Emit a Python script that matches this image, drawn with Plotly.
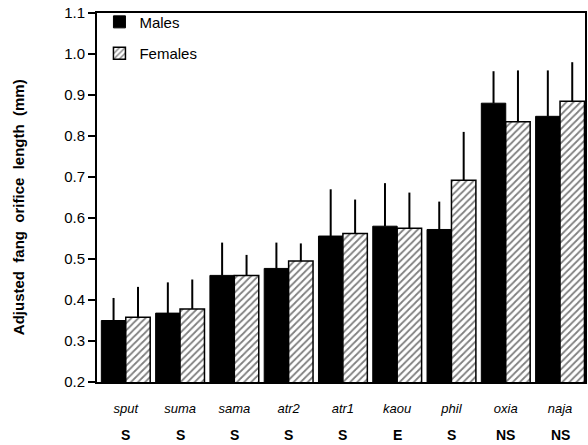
import plotly.graph_objects as go

species = ["sput", "suma", "sama", "atr2", "atr1", "kaou", "phil", "oxia", "naja"]
codes = ["S", "S", "S", "S", "S", "E", "S", "NS", "NS"]
males = [0.350, 0.368, 0.460, 0.477, 0.556, 0.580, 0.572, 0.880, 0.848]
females = [0.358, 0.378, 0.460, 0.495, 0.562, 0.575, 0.692, 0.835, 0.885]
males_err_top = [0.405, 0.443, 0.540, 0.540, 0.670, 0.685, 0.640, 0.958, 0.960]
females_err_top = [0.432, 0.450, 0.510, 0.538, 0.645, 0.662, 0.810, 0.960, 0.980]
y_title = "Adjusted fang orifice length (mm)"

x = list(range(len(species)))
m_err = [t - v for t, v in zip(males_err_top, males)]
f_err = [t - v for t, v in zip(females_err_top, females)]

fig = go.Figure()
fig.add_trace(go.Bar(
    x=x, y=males, name="Males", legendgroup="m",
    marker=dict(color="black", line=dict(color="black", width=1)),
    error_y=dict(type="data", array=m_err, arrayminus=[0]*len(x), symmetric=False,
                 color="black", thickness=2, width=0),
))
fig.add_trace(go.Bar(
    x=x, y=females, name="Females", legendgroup="f",
    marker=dict(color="white", line=dict(color="black", width=1.5),
                pattern=dict(shape="/", fgcolor="black", bgcolor="white", size=5, solidity=0.35)),
    error_y=dict(type="data", array=f_err, arrayminus=[0]*len(x), symmetric=False,
                 color="black", thickness=2, width=0),
))

for xi, c in zip(x, codes):
    fig.add_annotation(x=xi, y=-0.143, xref="x", yref="paper", text="<b>" + c + "</b>",
                       showarrow=False, font=dict(size=14, color="black", family="Liberation Sans, Arial"),
                       yanchor="middle")

fig.add_annotation(x=-0.161, y=0.475, xref="paper", yref="paper",
                   text="<b>" + y_title.replace(" ", "&nbsp;&nbsp;") + "</b>",
                   textangle=-90, showarrow=False, xanchor="center", yanchor="middle",
                   font=dict(size=15, color="black", family="Liberation Sans, Arial"))

fig.update_layout(
    width=588, height=445,
    margin=dict(l=97, r=1, t=13, b=63),
    paper_bgcolor="white", plot_bgcolor="white",
    barmode="group", bargap=0.1, bargroupgap=0,
    font=dict(family="Liberation Sans, Arial", color="black", size=14),
    showlegend=True,
    legend=dict(x=0.005, y=1.02, xanchor="left", yanchor="top", bgcolor="rgba(0,0,0,0)",
                font=dict(size=15), tracegroupgap=9, itemwidth=30),
)
fig.update_xaxes(
    range=[-0.53, 8.46], tickvals=x, ticktext=["<i>" + s + "</i>" for s in species],
    showline=True, linecolor="black", linewidth=2, mirror=True, ticks="",
    showgrid=False, zeroline=False, tickfont=dict(size=13), ticklabelstandoff=13,
)
fig.update_yaxes(
    range=[0.2, 1.1], tickvals=[0.2, 0.3, 0.4, 0.5, 0.6, 0.7, 0.8, 0.9, 1.0, 1.1],
    ticktext=["0.2", "0.3", "0.4", "0.5", "0.6", "0.7", "0.8", "0.9", "1.0", "1.1"],
    showline=True, linecolor="black", linewidth=2, mirror=True,
    ticks="outside", ticklen=7, tickwidth=1.5, tickcolor="black",
    showgrid=False, zeroline=False, tickfont=dict(size=15),
)
fig.write_html("out.html")
